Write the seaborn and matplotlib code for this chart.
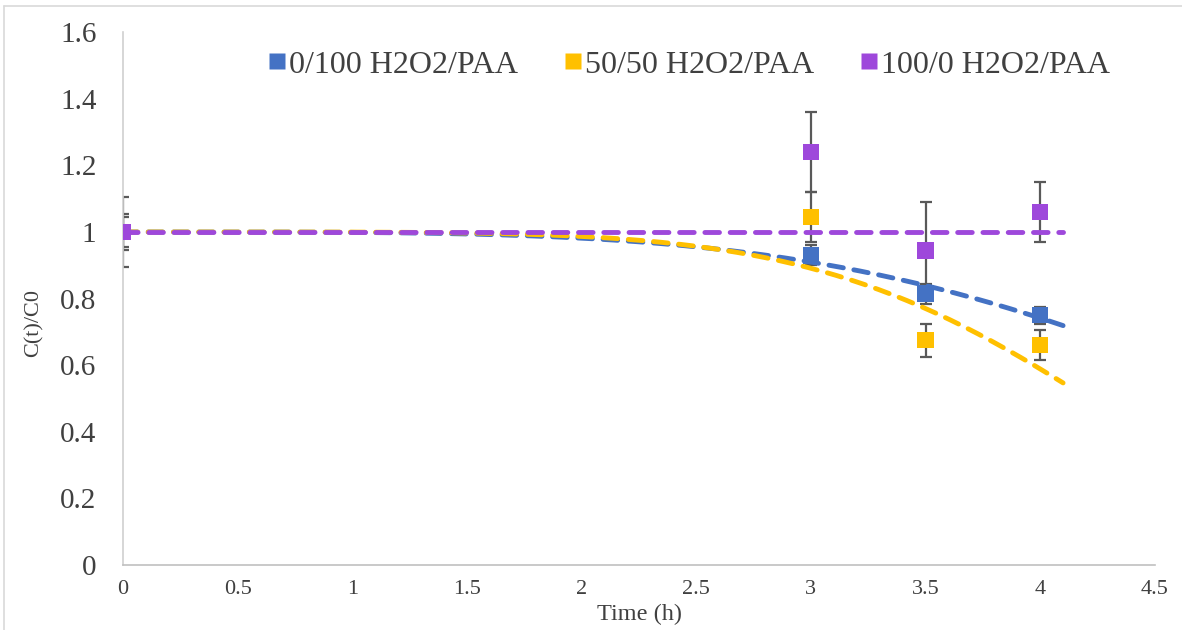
import numpy as np
import pandas as pd
import seaborn as sns
import matplotlib.pyplot as plt
from matplotlib.lines import Line2D

# measured points
time_h = [0, 3, 3.5, 4]
series = ['0/100 H2O2/PAA', '50/50 H2O2/PAA', '100/0 H2O2/PAA']
ratio_0_100 = [1.0, 0.93, 0.815, 0.75]
ratio_50_50 = [1.0, 1.045, 0.675, 0.66]
ratio_100_0 = [1.0, 1.24, 0.945, 1.06]
err_0_100 = [0.045, 0.03, 0.03, 0.025]
err_50_50 = [0.055, 0.075, 0.05, 0.045]
err_100_0 = [0.105, 0.12, 0.145, 0.09]

# trendline model parameters C/C0 = exp(-(t/tau)^n)
trend_tau = [5.41, 4.51, None]
trend_n = [4.0, 5.3, None]
trend_end = 4.1

colors = ['#4472c4', '#ffc000', '#9e48db']

rows = []
for name, vals, errs in zip(series, [ratio_0_100, ratio_50_50, ratio_100_0],
                            [err_0_100, err_50_50, err_100_0]):
    for t, v, e in zip(time_h, vals, errs):
        rows.append({'time': t, 'ratio': v, 'err': e, 'series': name})
df = pd.DataFrame(rows)

tt = np.linspace(0, trend_end, 200)
trend_rows = []
for name, tau, n in zip(series, trend_tau, trend_n):
    for t in tt:
        c = 1.0 if tau is None else np.exp(-(t / tau) ** n)
        trend_rows.append({'time': t, 'ratio': c, 'series': name})
trend = pd.DataFrame(trend_rows)

sns.set_style('white')
plt.rcParams['font.family'] = ['Liberation Serif', 'DejaVu Serif']

fig = plt.figure(figsize=(11.82, 6.3), dpi=100)
ax = fig.add_axes([0.104, 0.103, 0.873, 0.846])

pal = dict(zip(series, colors))

for name in series:
    d = df[df.series == name]
    ax.errorbar(d.time, d.ratio, yerr=d.err, fmt='none', ecolor='#595959',
                elinewidth=1.6, capsize=4.5, capthick=1.6, zorder=2)

sns.lineplot(data=trend, x='time', y='ratio', hue='series', palette=pal,
             ax=ax, legend=False, linewidth=3.5, zorder=3)
for ln in ax.lines[-3:]:
    ln.set_dashes([3, 2.2])
    ln.set_dash_capstyle('round')

sns.scatterplot(data=df, x='time', y='ratio', hue='series', palette=pal,
                marker='s', s=140, edgecolor='none', ax=ax, legend=False,
                zorder=4)

ax.set_xlim(0, 4.5)
ax.set_ylim(0, 1.6)
ax.set_xticks(np.arange(0, 4.51, 0.5))
ax.set_xticklabels(['0', '0.5', '1', '1.5', '2', '2.5', '3', '3.5', '4', '4.5'])
ax.set_yticks(np.arange(0, 1.61, 0.2))
ax.set_yticklabels(['0', '0.2', '0.4', '0.6', '0.8', '1', '1.2', '1.4', '1.6'])
ax.tick_params(axis='y', labelsize=21, colors='#404040', length=0, pad=19)
ax.tick_params(axis='x', labelsize=16, colors='#404040', length=0, pad=11)
ax.set_xlabel('Time (h)', fontsize=17.5, color='#404040', va='center')
ax.set_ylabel('C(t)/C0', fontsize=16, color='#404040', va='center')
ax.xaxis.set_label_coords(0.501, -0.092)
ax.yaxis.set_label_coords(-0.086, 0.455)

for s in ['top', 'right']:
    ax.spines[s].set_visible(False)
ax.spines['left'].set_color('#d0d0d0')
ax.spines['bottom'].set_color('#c0c0c0')
ax.spines['left'].set_linewidth(1.2)
ax.spines['bottom'].set_linewidth(1.2)

handles = [Line2D([], [], marker='s', linestyle='none', markersize=11,
                  markerfacecolor=c, markeredgecolor='none') for c in colors]
ax.legend(handles, series, loc='upper center', bbox_to_anchor=(0.549, 1.02),
          ncol=3, frameon=False, fontsize=23, handletextpad=0.1,
          handlelength=0.55, columnspacing=1.45, labelcolor='#404040')

# chart area border
fig.add_artist(Line2D([0.003, 0.003], [0, 0.99], color='#d9d9d9', lw=1.2))
fig.add_artist(Line2D([0.003, 1.0], [0.99, 0.99], color='#d9d9d9', lw=1.2))

fig.savefig('out.png', dpi=100)
